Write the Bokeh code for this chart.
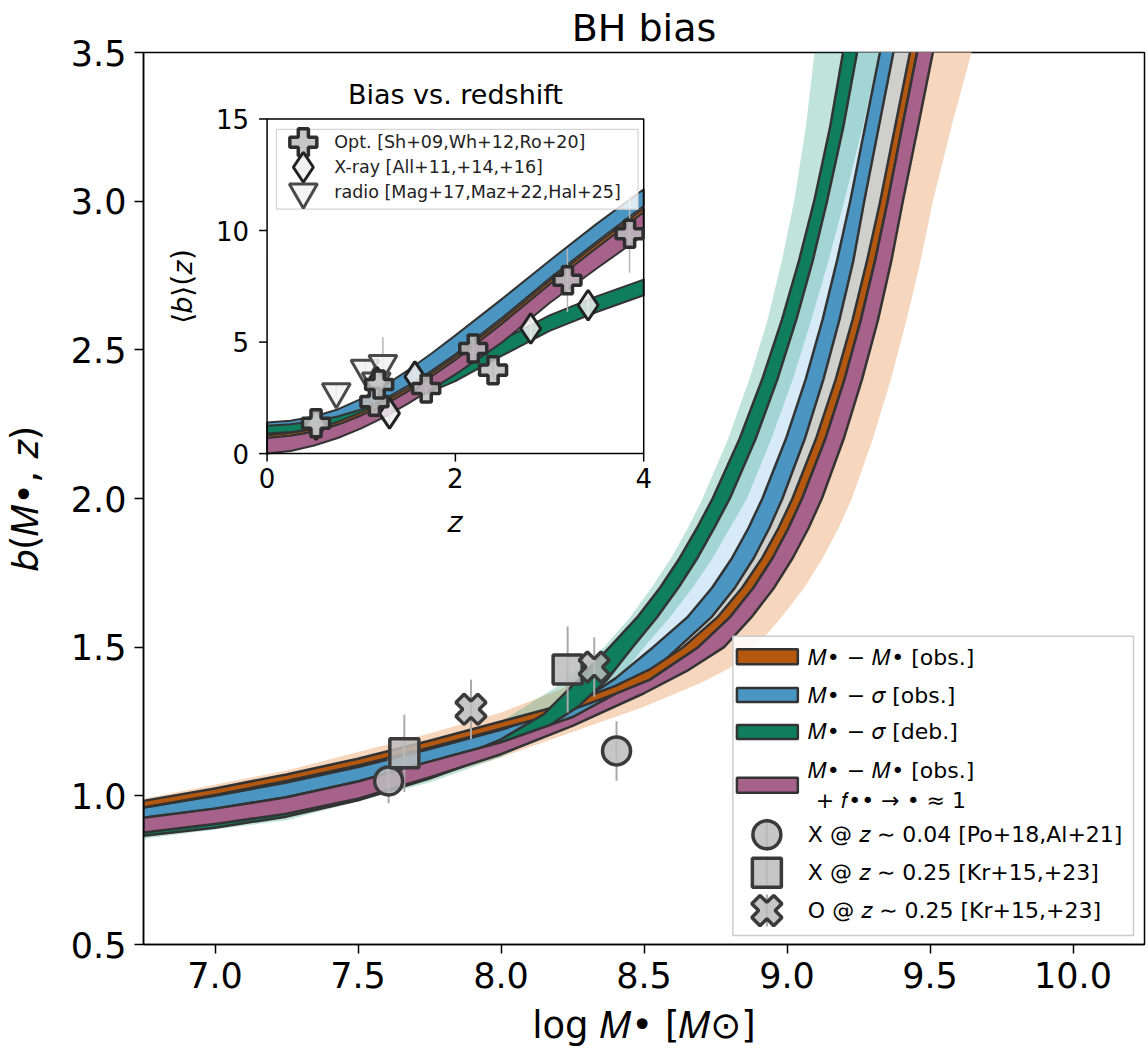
import numpy as np
from bokeh.plotting import figure
from bokeh.models import Range1d, FixedTicker
from bokeh.embed import file_html
from bokeh.resources import INLINE
from bokeh.core.properties import value

FONT = "DejaVu Sans"
IM, IS, IZ, IB, IF = "\U0001D440", "\U0001D70E", "\U0001D467", "\U0001D44F", "\U0001D453"

# ---------------- main panel data: band edges (log M, b) ----------------
# b levels used along the steep part of every curve
SB = [1.5, 1.6, 1.7, 1.8, 1.9, 2.0, 2.2, 2.4, 2.6, 2.8, 3.0, 3.25, 3.5, 3.75]

or_hi_x = [6.75, 7.0, 7.25, 7.5, 7.75, 8.0, 8.25, 8.4, 8.52,
           8.637, 8.756, 8.843, 8.913, 8.970, 9.019, 9.101, 9.170, 9.229, 9.280, 9.326, 9.378, 9.430, 9.48]
or_hi_b = [0.983, 1.025, 1.072, 1.125, 1.185, 1.25, 1.315, 1.37, 1.425] + SB
or_lo_x = [6.75, 7.0, 7.25, 7.5, 7.75, 8.0, 8.25, 8.4, 8.52,
           8.69, 8.80, 8.883, 8.950, 9.005, 9.053, 9.134, 9.201, 9.258, 9.308, 9.352, 9.403, 9.455, 9.505]
or_lo_b = [0.961, 1.003, 1.05, 1.102, 1.162, 1.226, 1.29, 1.343, 1.39] + SB

bl_hi_x = [6.75, 7.0, 7.25, 7.5, 7.75, 8.0, 8.25, 8.4,
           8.532, 8.651, 8.738, 8.808, 8.865, 8.914, 8.996, 9.065, 9.124, 9.175, 9.221, 9.273, 9.325, 9.375]
bl_hi_b = [0.961, 1.0, 1.045, 1.097, 1.157, 1.222, 1.30, 1.395] + SB
bl_lo_x = [6.75, 7.0, 7.25, 7.5, 7.75, 8.0, 8.25, 8.4, 8.52,
           8.622, 8.735, 8.818, 8.884, 8.938, 8.984, 9.062, 9.127, 9.183, 9.232, 9.270, 9.321, 9.372, 9.42]
bl_lo_b = [0.926, 0.957, 0.995, 1.048, 1.115, 1.18, 1.255, 1.33, 1.41] + SB

pk_hi_x = [6.75, 7.0, 7.25, 7.5, 7.75, 8.0, 8.25, 8.4, 8.52,
           8.69, 8.80, 8.883, 8.950, 9.005, 9.053, 9.134, 9.201, 9.258, 9.308, 9.352, 9.403, 9.455, 9.505]
pk_hi_b = [0.926, 0.957, 0.995, 1.048, 1.115, 1.18, 1.265, 1.343, 1.39] + SB
pk_lo_x = [6.75, 7.0, 7.25, 7.5, 7.75, 8.0, 8.25, 8.5, 8.65,
           8.78, 8.875, 8.955, 9.02, 9.075, 9.122, 9.198, 9.262, 9.318, 9.365, 9.405, 9.458, 9.51, 9.56]
pk_lo_b = [0.877, 0.905, 0.94, 0.99, 1.062, 1.14, 1.235, 1.345, 1.42] + SB

gr_hi_x = [6.75, 7.0, 7.25, 7.5, 7.75, 8.0, 8.15, 8.27,
           8.38, 8.476, 8.556, 8.625, 8.685, 8.740, 8.834, 8.913, 8.982, 9.042, 9.095, 9.151, 9.196, 9.235]
gr_hi_b = [0.90, 0.93, 0.968, 1.02, 1.09, 1.19, 1.275, 1.39] + SB
gr_lo_x = [6.75, 7.0, 7.25, 7.5, 7.75, 8.0, 8.15, 8.27, 8.37,
           8.46, 8.545, 8.62, 8.687, 8.745, 8.80, 8.89, 8.966, 9.032, 9.09, 9.14, 9.197, 9.245, 9.283]
gr_lo_b = [0.866, 0.893, 0.93, 0.985, 1.058, 1.145, 1.225, 1.30, 1.39] + SB

# light uncertainty bands
tl_hi_x = [6.75, 7.25, 7.75, 8.0, 8.2,
           8.36, 8.451, 8.526, 8.595, 8.653, 8.705, 8.794, 8.868, 8.932, 8.982, 9.025, 9.066, 9.096, 9.125]
tl_hi_b = [0.95, 1.05, 1.18, 1.25, 1.37] + SB
tl_lo_x = [6.75, 7.25, 7.75, 8.0, 8.2, 8.35,
           8.5, 8.59, 8.67, 8.74, 8.80, 8.86, 8.945, 9.02, 9.085, 9.145, 9.20, 9.265, 9.323, 9.37]
tl_lo_b = [0.856, 0.918, 1.045, 1.13, 1.225, 1.32] + SB

lb_hi_x = [6.75, 7.5, 8.0, 8.27, 8.37,
           8.46, 8.545, 8.62, 8.687, 8.745, 8.80, 8.89, 8.966, 9.032, 9.09, 9.14, 9.197, 9.245, 9.283]
lb_hi_b = [0.961, 1.097, 1.222, 1.33, 1.40] + SB

pe_hi_x = [6.75, 7.25, 7.75, 8.0, 8.2, 8.4, 8.55,
           8.756, 8.843, 8.913, 8.970, 9.019, 9.101, 9.170, 9.229, 9.280, 9.326, 9.378, 9.430, 9.48]
pe_hi_b = [0.99, 1.085, 1.21, 1.28, 1.355, 1.44, 1.52] + SB[1:]
pe_lo_x = [6.75, 7.5, 8.0, 8.5, 8.7, 8.8,
           8.89, 8.98, 9.06, 9.125, 9.18, 9.227, 9.30, 9.363, 9.418, 9.467, 9.51, 9.575, 9.645, 9.71]
pe_lo_b = [0.87, 0.985, 1.13, 1.3, 1.38, 1.43] + SB

# observed points (main panel)
circ_m = [7.607, 8.404]; circ_b = [1.050, 1.151]; circ_e = [0.075, 0.10]
sqr_m = [7.662, 8.233]; sqr_b = [1.143, 1.425]; sqr_e = [0.13, 0.145]
xo_m = [7.895, 8.326]; xo_b = [1.291, 1.433]; xo_e = [0.10, 0.10]

x_ticks = [7.0, 7.5, 8.0, 8.5, 9.0, 9.5, 10.0]
x_labels = ["7.0", "7.5", "8.0", "8.5", "9.0", "9.5", "10.0"]
y_ticks = [0.5, 1.0, 1.5, 2.0, 2.5, 3.0, 3.5]
y_labels = ["0.5", "1.0", "1.5", "2.0", "2.5", "3.0", "3.5"]

legend_labels = [f"{IM}• − {IM}• [obs.]", f"{IM}• − {IS} [obs.]", f"{IM}• − {IS} [deb.]",
                 f"{IM}• − {IM}• [obs.]", f"+ {IF}•• → • ≈ 1",
                 f"X @ {IZ} ∼ 0.04 [Po+18,Al+21]", f"X @ {IZ} ∼ 0.25 [Kr+15,+23]",
                 f"O @ {IZ} ∼ 0.25 [Kr+15,+23]"]

# ---------------- inset data ----------------
iz = [0, 0.25, 0.5, 0.75, 1.0, 1.25, 1.5, 1.75, 2.0, 2.5, 3.0, 3.5, 4.0]
i_bl_hi = [1.39, 1.47, 1.66, 1.98, 2.45, 3.05, 3.75, 4.50, 5.30, 6.95, 8.65, 10.30, 11.85]
i_bl_lo = [1.25, 1.32, 1.45, 1.66, 1.98, 2.45, 3.05, 3.72, 4.45, 6.10, 7.85, 9.50, 11.10]
i_or_hi = [0.82, 0.92, 1.10, 1.42, 1.85, 2.35, 2.95, 3.62, 4.35, 6.00, 7.75, 9.40, 11.00]
i_or_lo = [0.70, 0.80, 0.98, 1.29, 1.71, 2.20, 2.80, 3.47, 4.20, 5.84, 7.58, 9.22, 10.82]
i_pk_lo = [0.00, 0.12, 0.36, 0.70, 1.13, 1.65, 2.25, 2.90, 3.55, 5.00, 6.75, 8.30, 9.80]
i_gr_hi = [1.28, 1.36, 1.50, 1.72, 2.00, 2.38, 2.85, 3.40, 3.95, 5.10, 6.20, 7.05, 7.80]
i_gr_lo = [0.90, 0.97, 1.10, 1.30, 1.57, 1.95, 2.40, 2.80, 3.25, 4.40, 5.50, 6.35, 7.10]

opt_z = [0.52, 1.14, 1.19, 1.69, 2.19, 2.40, 3.19, 3.85]
opt_b = [1.36, 2.33, 3.10, 2.92, 4.71, 3.74, 7.77, 9.86]
opt_e = [0.25, 0.3, 0.4, 0.3, 0.4, 0.35, 1.42, 1.75]
xr_z = [0.52, 1.17, 1.30, 1.57, 2.80, 3.41]
xr_b = [1.30, 3.20, 1.80, 3.45, 5.61, 6.65]
xr_e = [0.3, 0.4, 0.45, 0.4, 0.5, 0.6]
rad_z = [0.735, 1.04, 1.16, 1.23]
rad_b = [2.77, 3.82, 3.25, 4.04]
rad_e = [0.3, 0.4, 0.4, 1.18]

iz_ticks = [0, 2, 4]; iz_labels = ["0", "2", "4"]
ib_ticks = [0, 5, 10, 15]; ib_labels = ["0", "5", "10", "15"]
inset_legend = ["Opt. [Sh+09,Wh+12,Ro+20]", "X-ray [All+11,+14,+16]", "radio [Mag+17,Maz+22,Hal+25]"]

# ---------------- colours ----------------
C_OR, C_BL, C_GR, C_PK = "#b4570f", "#4a95c2", "#0e7e5d", "#a6628b"
C_GRAY, C_PEACH, C_LBLUE, C_TEAL = "#cfcfcb", "#f6d6bd", "#d6ebf7", "#1b9e77"
EDGE = "#333333"

# ---------------- layout (screen px of frames) ----------------
FL, FR, FT, FB = 142, 1144, 50, 944
IL, IR, IT, IBt = 265.7, 642.7, 116.7, 452.0
zs = (IR - IL) / 4.0
bs = (IBt - IT) / 15.0

p = figure(width=1148, height=1055, x_range=Range1d(6.75, 10.25), y_range=Range1d(0.5, 3.5),
           output_backend="svg", toolbar_location=None,
           min_border_left=FL, min_border_right=1148 - FR, min_border_top=FT, min_border_bottom=1055 - FB)
p.extra_x_ranges = {"px": Range1d(FL, FR), "iz": Range1d(-(IL - FL) / zs, 4 + (FR - IR) / zs)}
p.extra_y_ranges = {"py": Range1d(FB, FT), "ib": Range1d(-(FB - IBt) / bs, 15 + (IT - FT) / bs)}

p.grid.visible = False
p.outline_line_color = "black"
p.outline_line_width = 1.5
p.background_fill_color = "white"
p.border_fill_color = "white"

p.title.text = "BH bias"
p.title.align = "center"
p.title.text_font = FONT
p.title.text_font_size = "38px"
p.title.text_font_style = "normal"
p.title.text_color = "black"
p.title.standoff = 6

for ax, ticks, labels in ((p.xaxis, x_ticks, x_labels), (p.yaxis, y_ticks, y_labels)):
    ax.ticker = FixedTicker(ticks=ticks)
    ax.major_label_overrides = {t: l for t, l in zip(ticks, labels)}
    ax.major_label_text_font = FONT
    ax.major_label_text_font_size = "35px"
    ax.major_label_text_color = "black"
    ax.axis_label_text_font = FONT
    ax.axis_label_text_font_size = "37px"
    ax.axis_label_text_font_style = "normal"
    ax.axis_label_text_color = "black"
    ax.major_tick_out = 9
    ax.major_tick_in = 0
    ax.minor_tick_line_color = None
    ax.axis_line_width = 1.5
    ax.major_tick_line_width = 1.5
p.xaxis.axis_label = f"log {IM}• [{IM}⊙]"
p.yaxis.axis_label = f"{IB}({IM}•, {IZ})"
p.xaxis.major_label_standoff = 8
p.xaxis.axis_label_standoff = 13
p.yaxis.major_label_standoff = 8
p.yaxis.axis_label_standoff = 21


def band(xu, bu, xl, bl, color, alpha=1.0, edge=True, xr="default", yr="default", lw=2.5):
    p.patch(x=list(xu) + list(xl)[::-1], y=list(bu) + list(bl)[::-1],
            fill_color=color, fill_alpha=alpha,
            line_color=EDGE if edge else None, line_width=lw, line_join="round",
            x_range_name=xr, y_range_name=yr)


# light bands
band(pe_hi_x, pe_hi_b, pe_lo_x, pe_lo_b, C_PEACH, edge=False)
band(lb_hi_x, lb_hi_b, bl_lo_x, bl_lo_b, C_LBLUE, edge=False)
band(tl_hi_x, tl_hi_b, tl_lo_x, tl_lo_b, C_TEAL, alpha=0.28, edge=False)
# gray band between blue and orange along the steep part
band(bl_lo_x[9:], bl_lo_b[9:], or_hi_x[9:], or_hi_b[9:], C_GRAY, edge=False)
# dark bands
band(bl_hi_x, bl_hi_b, bl_lo_x, bl_lo_b, C_BL)
band(or_hi_x, or_hi_b, or_lo_x, or_lo_b, C_OR)
band(gr_hi_x, gr_hi_b, gr_lo_x, gr_lo_b, C_GR)
band(pk_hi_x, pk_hi_b, pk_lo_x, pk_lo_b, C_PK)

# observed points
MK = dict(fill_color="#bcbcbc", fill_alpha=0.85, line_color="#3a3a3a", line_width=3.5)
for xs, bs_, es in ((circ_m, circ_b, circ_e), (sqr_m, sqr_b, sqr_e), (xo_m, xo_b, xo_e)):
    p.segment(x0=xs, x1=xs, y0=[b - e for b, e in zip(bs_, es)], y1=[b + e for b, e in zip(bs_, es)],
              line_color="#aaaaaa", line_width=2)
p.scatter(circ_m, circ_b, marker="circle", size=28, **MK)
p.scatter(sqr_m, sqr_b, marker="square", size=29, **MK)
p.scatter(xo_m, xo_b, marker="plus", size=31, angle=np.pi / 4, **MK)

# ---------------- main legend (screen px) ----------------
P = dict(x_range_name="px", y_range_name="py")
p.quad(left=[732], right=[1133], top=[635], bottom=[935], fill_color="white", fill_alpha=0.85,
       line_color="#cccccc", line_width=1.5, **P)
for (top, bot), col in zip(((648, 663), (687, 701), (724, 738), (777, 792)), (C_OR, C_BL, C_GR, C_PK)):
    p.quad(left=[736], right=[797], top=[top], bottom=[bot], fill_color=col, line_color=EDGE, line_width=2.5, **P)
p.segment(x0=[766] * 3, x1=[766] * 3, y0=[818, 856, 894], y1=[850, 888, 926], line_color="#aaaaaa", line_width=2, **P)
p.scatter([766], [834], marker="circle", size=28, **MK, **P)
p.scatter([766], [872], marker="square", size=29, **MK, **P)
p.scatter([766], [910], marker="plus", size=31, angle=np.pi / 4, **MK, **P)
p.text(x=[807, 807, 807, 807, 815, 807, 807, 807], y=[656, 694, 731, 770, 800, 834, 872, 910],
       text=legend_labels, text_font=value(FONT), text_font_size=value("22px"),
       text_baseline="middle", text_align="left", text_color="black", **P)

# ---------------- inset ----------------
I = dict(x_range_name="iz", y_range_name="ib")
p.quad(left=[0], right=[4], bottom=[0], top=[15], fill_color="white", line_color=None, **I)
band(iz, i_gr_hi, iz, i_gr_lo, C_GR, xr="iz", yr="ib", lw=2)
band(iz, i_bl_hi, iz, i_bl_lo, C_BL, xr="iz", yr="ib", lw=2)
band(iz, i_or_hi, iz, i_or_lo, C_OR, xr="iz", yr="ib", lw=2)
band(iz, i_or_lo, iz, i_pk_lo, C_PK, xr="iz", yr="ib", lw=2)
p.quad(left=[0], right=[4], bottom=[0], top=[15], fill_color=None, line_color="black", line_width=1.5, **I)

for zz, bb, ee in ((opt_z, opt_b, opt_e), (xr_z, xr_b, xr_e), (rad_z, rad_b, rad_e)):
    p.segment(x0=zz, x1=zz, y0=[b - e for b, e in zip(bb, ee)], y1=[b + e for b, e in zip(bb, ee)],
              line_color="#b5b5b5", line_width=1.5, **I)
OPT = dict(fill_color="#bdbdbd", fill_alpha=0.85, line_color="#2e2e2e", line_width=3.5)
XRM = dict(fill_color="#eeeeee", fill_alpha=0.85, line_color="#222222", line_width=3)
RDM = dict(fill_color="#f2f2f2", fill_alpha=0.85, line_color="#4a4a4a", line_width=3)
p.scatter(rad_z, rad_b, marker="inverted_triangle", size=28, **RDM, **I)
p.scatter(xr_z, xr_b, marker="diamond", size=30, **XRM, **I)
p.scatter(opt_z, opt_b, marker="plus", size=27, **OPT, **I)

# inset ticks and labels
p.segment(x0=iz_ticks, x1=iz_ticks, y0=[IBt] * 3, y1=[IBt + 8] * 3, line_color="black", line_width=1.5,
          x_range_name="iz", y_range_name="py")
p.segment(x0=[IL - 8] * 4, x1=[IL] * 4, y0=ib_ticks, y1=ib_ticks, line_color="black", line_width=1.5,
          x_range_name="px", y_range_name="ib")
p.text(x=iz_ticks, y=[IBt + 14] * 3, text=iz_labels, text_font=value(FONT), text_font_size=value("26px"),
       text_align="center", text_baseline="top", x_range_name="iz", y_range_name="py")
p.text(x=[IL - 18] * 4, y=ib_ticks, text=ib_labels, text_font=value(FONT), text_font_size=value("26px"),
       text_align="right", text_baseline="middle", x_range_name="px", y_range_name="ib")
p.text(x=[(IL + IR) / 2], y=[IT - 25], text=["Bias vs. redshift"], text_font=value(FONT),
       text_font_size=value("27px"), text_align="center", text_baseline="middle", **P)
p.text(x=[(IL + IR) / 2], y=[520], text=[IZ], text_font=value(FONT),
       text_font_size=value("30px"), text_align="center", text_baseline="middle", **P)
p.text(x=[181], y=[(IT + IBt) / 2], text=[f"⟨{IB}⟩({IZ})"], text_font=value(FONT), angle=np.pi / 2,
       text_font_size=value("28px"), text_align="center", text_baseline="middle", **P)

# inset legend
p.quad(left=[275], right=[637], top=[127], bottom=[207], fill_color="white", fill_alpha=0.8,
       line_color="#d5d5d5", line_width=1.2, **P)
p.scatter([302], [140], marker="plus", size=27, **OPT, **P)
p.scatter([302], [165], marker="diamond", size=30, **XRM, **P)
p.scatter([302], [190], marker="inverted_triangle", size=28, **RDM, **P)
p.text(x=[333] * 3, y=[140, 165, 190], text=inset_legend, text_font=value(FONT), text_font_size=value("17.5px"),
       text_align="left", text_baseline="middle", text_color="#222222", **P)

open("out.html", "w").write(file_html(p, INLINE))
